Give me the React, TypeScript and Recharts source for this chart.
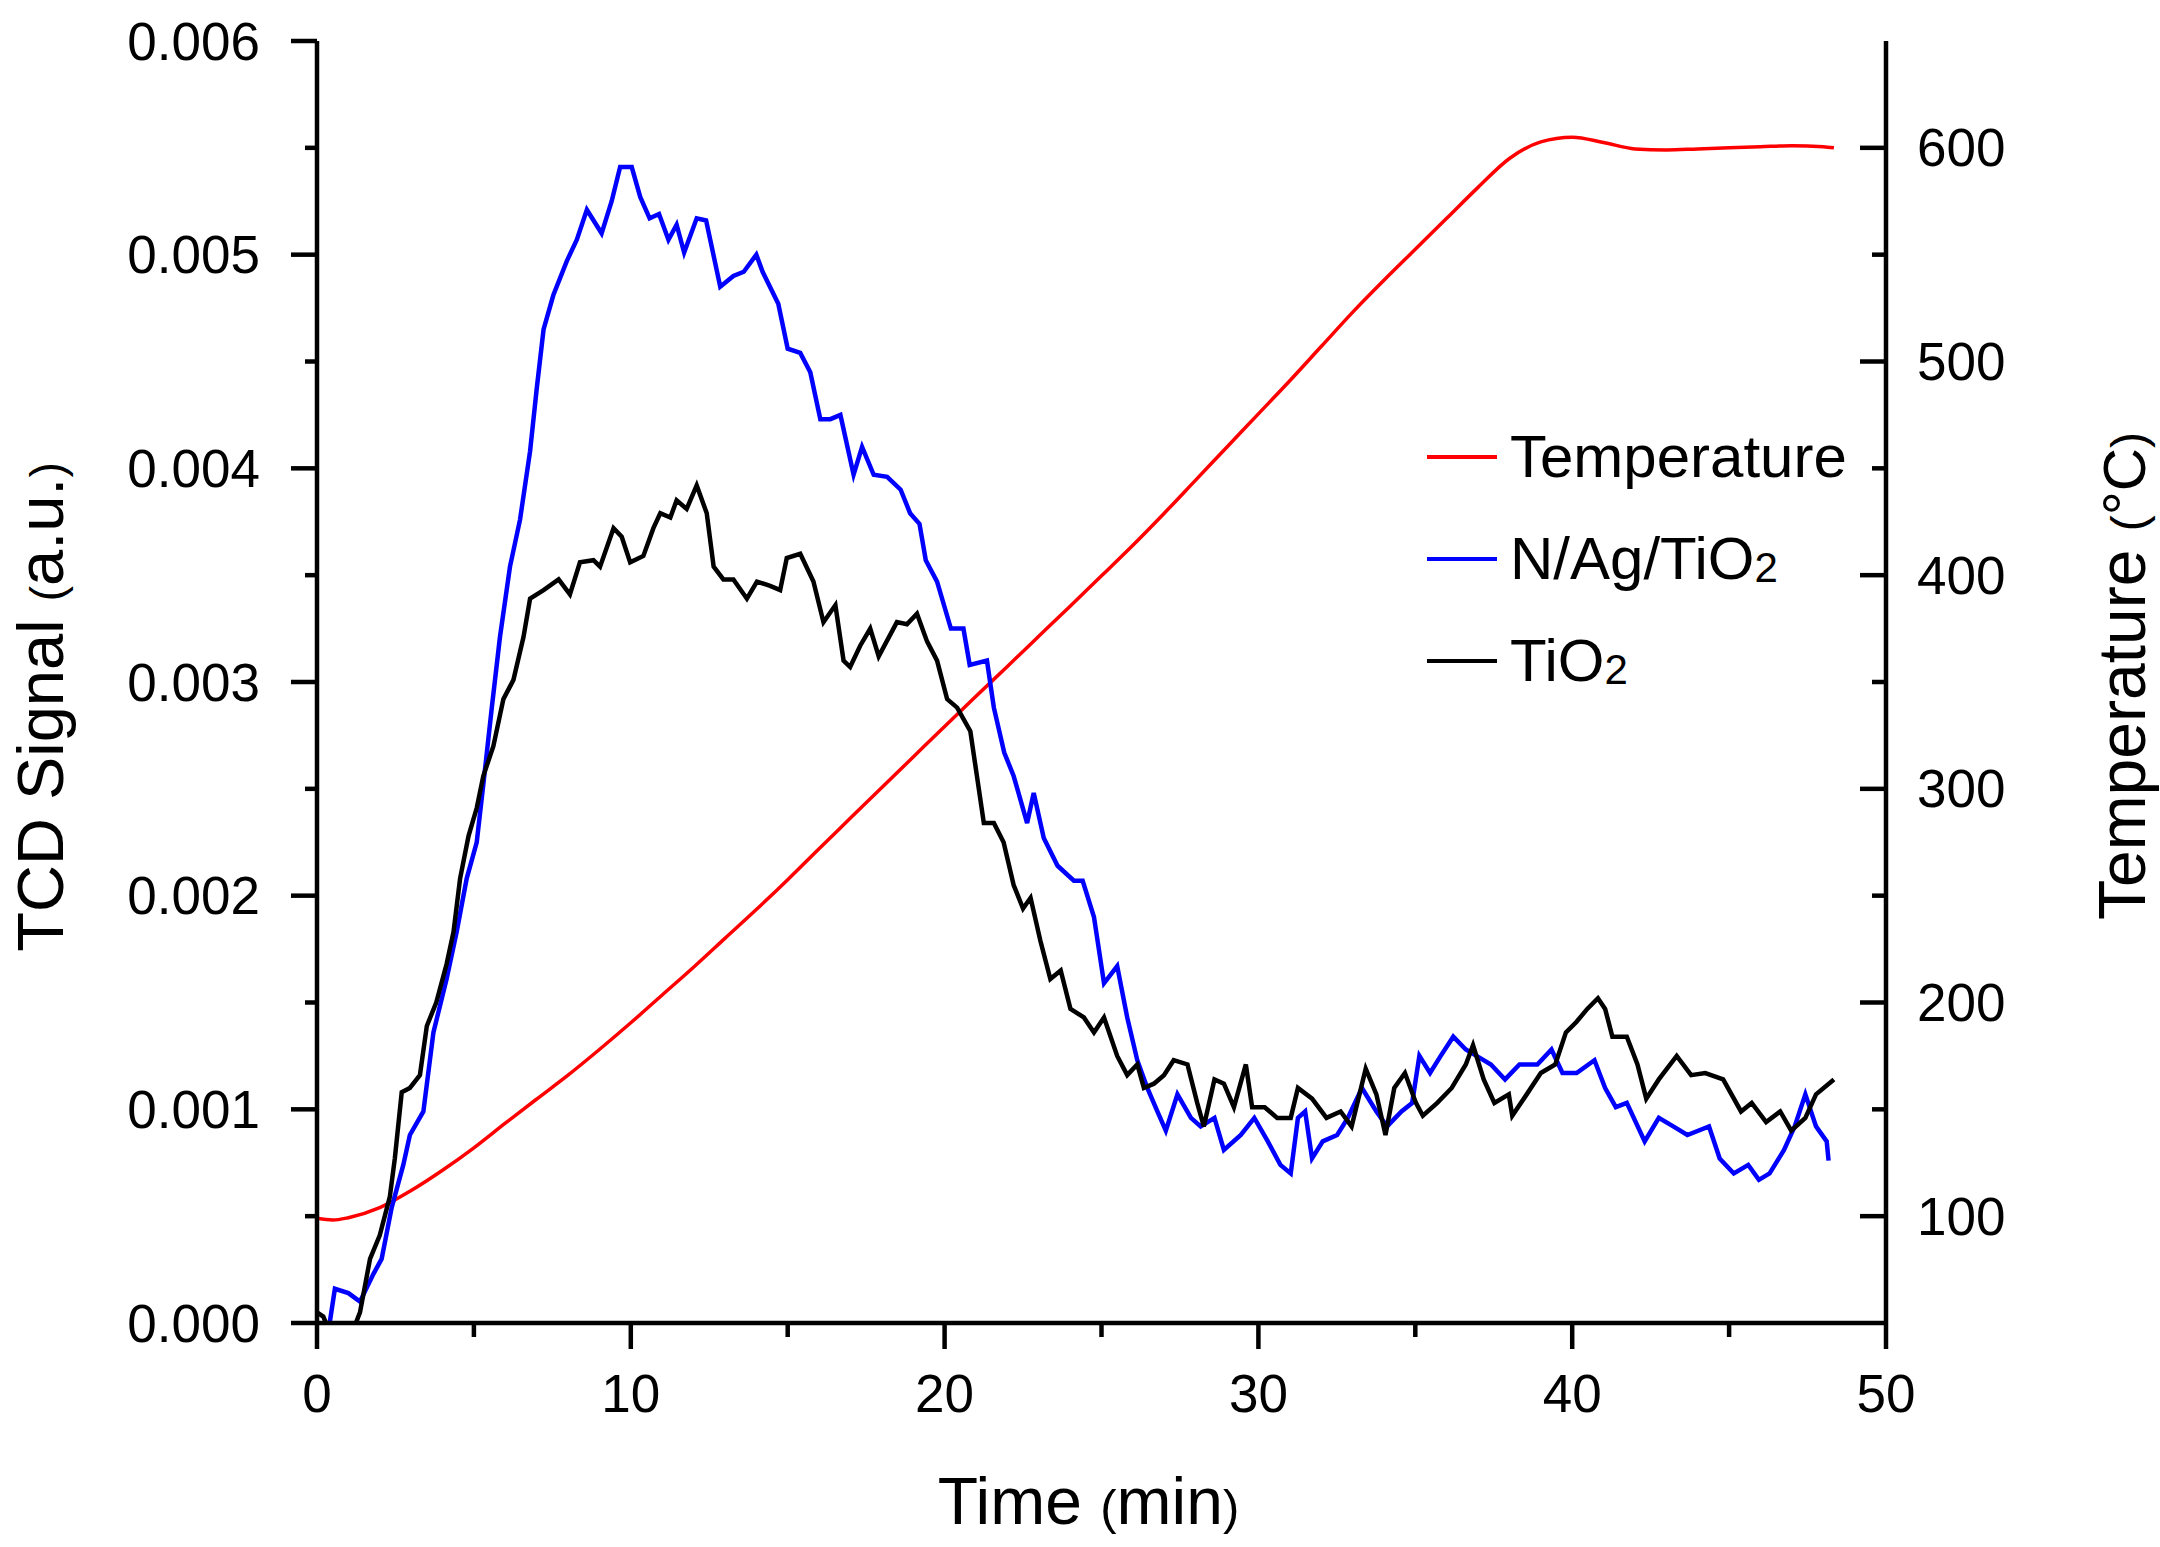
import { LineChart, Line, XAxis, YAxis, Legend, Label } from 'recharts';

const FONT = '"Liberation Sans", Arial, sans-serif';

// axis ticks (minor + major) and the labelled ones
const timeTicks = [0, 5, 10, 15, 20, 25, 30, 35, 40, 45, 50];
const timeLabels = [0, 10, 20, 30, 40, 50];
const signalTicks = [0, 0.0005, 0.001, 0.0015, 0.002, 0.0025, 0.003, 0.0035, 0.004, 0.0045, 0.005, 0.0055, 0.006];
const signalLabels = [0, 0.001, 0.002, 0.003, 0.004, 0.005, 0.006];
const tempTicks = [100, 150, 200, 250, 300, 350, 400, 450, 500, 550, 600];
const tempLabels = [100, 200, 300, 400, 500, 600];

const legendOrder = ['Temperature', 'N/Ag/TiO2', 'TiO2'];

// [time (min), TCD signal x 1e-3]
const nagTrace = [
    [0, 0.0], [0.3, -0.1], [0.57, 0.16], [1.0, 0.14], [1.37, 0.1], [1.8, 0.23], [2.06, 0.3], [2.38, 0.54],
    [2.75, 0.74], [2.96, 0.88], [3.39, 0.99], [3.71, 1.36], [4.13, 1.61], [4.45, 1.83], [4.77, 2.08], [5.09, 2.25],
    [5.3, 2.52], [5.57, 2.88], [5.83, 3.21], [6.15, 3.54], [6.47, 3.76], [6.79, 4.08], [7.0, 4.37], [7.22, 4.65],
    [7.53, 4.81], [7.96, 4.97], [8.28, 5.07], [8.6, 5.21], [9.07, 5.1], [9.39, 5.25], [9.66, 5.41], [10.03, 5.41],
    [10.3, 5.27], [10.6, 5.17], [10.9, 5.19], [11.2, 5.07], [11.46, 5.14], [11.7, 5.01], [12.1, 5.17], [12.4, 5.16],
    [12.85, 4.85], [13.27, 4.9], [13.6, 4.92], [14.0, 5.0], [14.2, 4.92], [14.7, 4.77], [15.0, 4.56], [15.4, 4.54],
    [15.72, 4.45], [16.04, 4.23], [16.36, 4.23], [16.68, 4.25], [17.1, 3.97], [17.37, 4.1], [17.74, 3.97], [18.17, 3.96],
    [18.6, 3.9], [18.9, 3.79], [19.2, 3.74], [19.4, 3.57], [19.76, 3.47], [20.2, 3.25], [20.6, 3.25], [20.8, 3.08],
    [21.35, 3.1], [21.57, 2.88], [21.9, 2.67], [22.2, 2.56], [22.63, 2.34], [22.84, 2.48], [23.16, 2.27], [23.6, 2.14],
    [24.12, 2.07], [24.4, 2.07], [24.76, 1.9], [25.08, 1.59], [25.5, 1.67], [25.82, 1.43], [26.14, 1.23], [26.46, 1.1],
    [26.78, 0.99], [27.05, 0.9], [27.42, 1.07], [27.85, 0.96], [28.16, 0.92], [28.6, 0.96], [28.9, 0.81], [29.44, 0.88],
    [29.87, 0.96], [30.3, 0.85], [30.7, 0.74], [31.03, 0.7], [31.26, 0.96], [31.49, 0.99], [31.71, 0.77], [32.05, 0.85],
    [32.51, 0.88], [32.85, 0.96], [33.3, 1.1], [33.76, 0.99], [34.1, 0.92], [34.56, 0.99], [34.9, 1.03], [35.13, 1.25],
    [35.47, 1.17], [35.81, 1.25], [36.21, 1.34], [36.61, 1.28], [36.95, 1.25], [37.41, 1.21], [37.86, 1.14], [38.32, 1.21],
    [38.89, 1.21], [39.34, 1.28], [39.69, 1.17], [40.14, 1.17], [40.71, 1.23], [41.05, 1.1], [41.39, 1.01], [41.74, 1.03],
    [42.31, 0.85], [42.76, 0.96], [43.22, 0.92], [43.67, 0.88], [44.36, 0.92], [44.7, 0.77], [45.15, 0.7], [45.61, 0.74],
    [45.95, 0.67], [46.29, 0.7], [46.75, 0.81], [47.09, 0.92], [47.43, 1.07], [47.77, 0.92], [48.11, 0.85], [48.17, 0.76],
];

const tioTrace = [
    [0, 0.05], [0.2, 0.03], [0.4, -0.04], [0.73, -0.06], [1.16, -0.03], [1.37, 0.05], [1.69, 0.3], [2.0, 0.41],
    [2.32, 0.59], [2.48, 0.77], [2.7, 1.08], [2.96, 1.1], [3.28, 1.16], [3.5, 1.39], [3.8, 1.5], [4.13, 1.68],
    [4.35, 1.83], [4.56, 2.08], [4.83, 2.28], [5.09, 2.41], [5.3, 2.56], [5.62, 2.7], [5.94, 2.92], [6.26, 3.01],
    [6.58, 3.21], [6.79, 3.39], [7.22, 3.43], [7.7, 3.48], [8.06, 3.41], [8.38, 3.56], [8.81, 3.57], [9.02, 3.54],
    [9.45, 3.72], [9.71, 3.68], [9.98, 3.56], [10.4, 3.59], [10.72, 3.72], [10.94, 3.79], [11.26, 3.77], [11.46, 3.85],
    [11.78, 3.81], [12.1, 3.92], [12.42, 3.79], [12.64, 3.54], [12.95, 3.48], [13.27, 3.48], [13.7, 3.39], [14.02, 3.47],
    [14.44, 3.45], [14.76, 3.43], [14.97, 3.58], [15.4, 3.6], [15.82, 3.47], [16.14, 3.28], [16.52, 3.36], [16.78, 3.1],
    [16.99, 3.07], [17.31, 3.17], [17.63, 3.25], [17.9, 3.12], [18.48, 3.28], [18.8, 3.27], [19.12, 3.32], [19.44, 3.19],
    [19.76, 3.1], [20.08, 2.92], [20.4, 2.88], [20.82, 2.77], [21.03, 2.56], [21.25, 2.34], [21.57, 2.34], [21.88, 2.25],
    [22.2, 2.05], [22.5, 1.94], [22.74, 1.99], [23.05, 1.79], [23.37, 1.61], [23.7, 1.65], [24.01, 1.47], [24.44, 1.43],
    [24.76, 1.36], [25.08, 1.43], [25.5, 1.25], [25.82, 1.16], [26.14, 1.21], [26.35, 1.1], [26.67, 1.12], [26.99, 1.16],
    [27.3, 1.23], [27.74, 1.21], [28.05, 1.03], [28.26, 0.92], [28.6, 1.14], [28.9, 1.12], [29.22, 1.01], [29.6, 1.21],
    [29.8, 1.01], [30.2, 1.01], [30.6, 0.96], [31.03, 0.96], [31.26, 1.1], [31.71, 1.05], [32.17, 0.96], [32.62, 0.99],
    [32.97, 0.92], [33.42, 1.19], [33.76, 1.07], [34.05, 0.88], [34.33, 1.1], [34.67, 1.17], [35.02, 1.03], [35.24, 0.97],
    [35.7, 1.03], [36.16, 1.1], [36.61, 1.21], [36.84, 1.3], [37.18, 1.14], [37.52, 1.03], [37.98, 1.07], [38.09, 0.97],
    [38.55, 1.07], [39.0, 1.17], [39.46, 1.21], [39.8, 1.36], [40.14, 1.41], [40.48, 1.47], [40.82, 1.52], [41.05, 1.47],
    [41.28, 1.34], [41.74, 1.34], [42.08, 1.21], [42.36, 1.05], [42.76, 1.14], [43.33, 1.25], [43.79, 1.16], [44.24, 1.17],
    [44.81, 1.14], [45.38, 0.99], [45.72, 1.03], [46.18, 0.94], [46.63, 0.99], [46.98, 0.9], [47.43, 0.96], [47.77, 1.07],
    [48.34, 1.14],
];

// [time (min), temperature (°C)]
const tempTrace = [
    [0, 99], [0.5, 98.2], [1, 99.3], [2, 104], [3, 112], [4, 121.5], [5, 132], [6, 143.5], [7, 154.8], [8, 166],
    [9, 178], [10, 190.5], [11, 203.5], [12, 216.5], [13, 230], [14, 243.5], [15, 257.5], [16, 272], [17, 286.3],
    [18, 300.6], [19, 314.9], [20, 329.2], [21, 343.3], [22, 357.3], [23, 371.4], [24, 385.5], [25, 399.7], [26, 414],
    [27, 429], [28, 444.5], [29, 460], [30, 475.5], [31, 491], [32, 507], [33, 523], [34, 538], [35, 552.5], [36, 567],
    [37, 581.5], [38, 595], [39, 602.8], [40, 605], [41, 602.5], [42, 599.5], [43, 599], [44, 599.5], [45, 600],
    [46, 600.5], [47, 601], [48, 600.5], [48.34, 600],
];

const nagData = nagTrace.map(([t, v]) => ({ t, signal: v / 1000 }));
const tioData = tioTrace.map(([t, v]) => ({ t, signal: v / 1000 }));
const tempData = tempTrace.map(([t, v]) => ({ t, temp: v }));

const TICK_FONT = 53;
const AXIS_STROKE = 4.5;

function SignalTick({ x, y, payload }: any) {
    const major = signalLabels.includes(payload.value);
    return (
        <g>
            <line x1={x} x2={x - (major ? 26 : 12)} y1={y} y2={y} stroke="#000" strokeWidth={AXIS_STROKE} />
            {major && (
                <text x={x - 57} y={y} textAnchor="end" dominantBaseline="central"
                    fontFamily={FONT} fontSize={TICK_FONT} fill="#000">
                    {payload.value.toFixed(3)}
                </text>
            )}
        </g>
    );
}

function TempTick({ x, y, payload }: any) {
    const major = tempLabels.includes(payload.value);
    return (
        <g>
            <line x1={x} x2={x - (major ? 26 : 14)} y1={y} y2={y} stroke="#000" strokeWidth={AXIS_STROKE} />
            {major && (
                <text x={x + 31} y={y} textAnchor="start" dominantBaseline="central"
                    fontFamily={FONT} fontSize={TICK_FONT} fill="#000">
                    {payload.value}
                </text>
            )}
        </g>
    );
}

function TimeTick({ x, y, payload }: any) {
    const major = timeLabels.includes(payload.value);
    return (
        <g>
            <line x1={x} x2={x} y1={y} y2={y + (major ? 26 : 14)} stroke="#000" strokeWidth={AXIS_STROKE} />
            {major && (
                <text x={x} y={y + 89} textAnchor="middle"
                    fontFamily={FONT} fontSize={TICK_FONT} fill="#000">
                    {payload.value}
                </text>
            )}
        </g>
    );
}

// axis titles: the brackets are set smaller, as in the original
function SignalTitle({ viewBox }: any) {
    const x = viewBox.x + 63;
    const y = viewBox.y + viewBox.height / 2 + 25;
    return (
        <text x={x} y={y} transform={`rotate(-90, ${x}, ${y})`} textAnchor="middle" fontFamily={FONT} fill="#000">
            <tspan fontSize={65}>TCD Signal </tspan>
            <tspan fontSize={46}>(</tspan>
            <tspan fontSize={65}>a.u.</tspan>
            <tspan fontSize={46}>)</tspan>
        </text>
    );
}

function TempTitle({ viewBox }: any) {
    const x = viewBox.x + 259;
    const y = viewBox.y + viewBox.height / 2 - 6;
    return (
        <text x={x} y={y} transform={`rotate(-90, ${x}, ${y})`} textAnchor="middle" fontFamily={FONT} fill="#000">
            <tspan fontSize={66}>Temperature </tspan>
            <tspan fontSize={48}>(</tspan>
            <tspan fontSize={60}>°C</tspan>
            <tspan fontSize={48}>)</tspan>
        </text>
    );
}

function TimeTitle({ viewBox }: any) {
    const x = viewBox.x + viewBox.width / 2 - 13;
    const y = viewBox.y + 201;
    return (
        <text x={x} y={y} textAnchor="middle" fontFamily={FONT} fill="#000">
            <tspan fontSize={66}>Time </tspan>
            <tspan fontSize={49}>(</tspan>
            <tspan fontSize={66}>min</tspan>
            <tspan fontSize={49}>)</tspan>
        </text>
    );
}

function chemName(name: string) {
    if (!name.endsWith('2')) return name;
    return (
        <>
            {name.slice(0, -1)}
            <span style={{ fontSize: 42, verticalAlign: '-0.06em' }}>2</span>
        </>
    );
}

function LegendBox({ payload }: any) {
    const items = [...(payload ?? [])].sort(
        (a: any, b: any) => legendOrder.indexOf(a.value) - legendOrder.indexOf(b.value)
    );
    return (
        <div style={{ fontFamily: FONT, color: '#000' }}>
            {items.map((item: any) => (
                <div key={item.value} style={{ display: 'flex', alignItems: 'center', height: 102 }}>
                    <span style={{ display: 'inline-block', width: 70, height: 4, background: item.color, marginRight: 13 }} />
                    <span style={{ fontSize: 60, lineHeight: 1, whiteSpace: 'nowrap' }}>{chemName(item.value)}</span>
                </div>
            ))}
        </div>
    );
}

export default function App() {
    return (
        <div style={{ position: 'absolute', left: 0, top: 0, width: 2160, height: 1547, background: '#fff' }}>
            <LineChart width={2160} height={1547} margin={{ top: 41, right: 0, bottom: 0, left: 0 }}>
                <XAxis xAxisId="time" dataKey="t" type="number" domain={[0, 50]} ticks={timeTicks} interval={0}
                    allowDataOverflow height={224} tickSize={0} tickMargin={0} tickLine={false}
                    axisLine={{ stroke: '#000', strokeWidth: AXIS_STROKE }} tick={<TimeTick />}>
                    <Label content={<TimeTitle />} />
                </XAxis>
                <XAxis xAxisId="frame" orientation="top" dataKey="t" type="number" domain={[0, 50]} height={0}
                    tick={false} tickLine={false} axisLine={{ stroke: '#000', strokeWidth: AXIS_STROKE }} />
                <YAxis yAxisId="signal" type="number" domain={[0, 0.006]} ticks={signalTicks} interval={0}
                    allowDataOverflow width={317} tickSize={0} tickMargin={0} tickLine={false}
                    axisLine={{ stroke: '#000', strokeWidth: AXIS_STROKE }} tick={<SignalTick />}>
                    <Label content={<SignalTitle />} />
                </YAxis>
                <YAxis yAxisId="temp" orientation="right" type="number" domain={[50, 650]} ticks={tempTicks} interval={0}
                    allowDataOverflow width={274} tickSize={0} tickMargin={0} tickLine={false}
                    axisLine={{ stroke: '#000', strokeWidth: AXIS_STROKE }} tick={<TempTick />}>
                    <Label content={<TempTitle />} />
                </YAxis>
                <Legend layout="vertical" align="center" verticalAlign="middle" content={<LegendBox />}
                    wrapperStyle={{ left: 1427, top: 406, width: 'auto', height: 'auto' }} />
                <Line xAxisId="time" yAxisId="temp" data={tempData} dataKey="temp" name="Temperature"
                    type="monotone" stroke="#ff0000" strokeWidth={3.5} dot={false} isAnimationActive={false} />
                <Line xAxisId="time" yAxisId="signal" data={nagData} dataKey="signal" name="N/Ag/TiO2"
                    type="linear" stroke="#0000ff" strokeWidth={4.5} dot={false} isAnimationActive={false} />
                <Line xAxisId="time" yAxisId="signal" data={tioData} dataKey="signal" name="TiO2"
                    type="linear" stroke="#000000" strokeWidth={4.5} dot={false} isAnimationActive={false} />
            </LineChart>
        </div>
    );
}
